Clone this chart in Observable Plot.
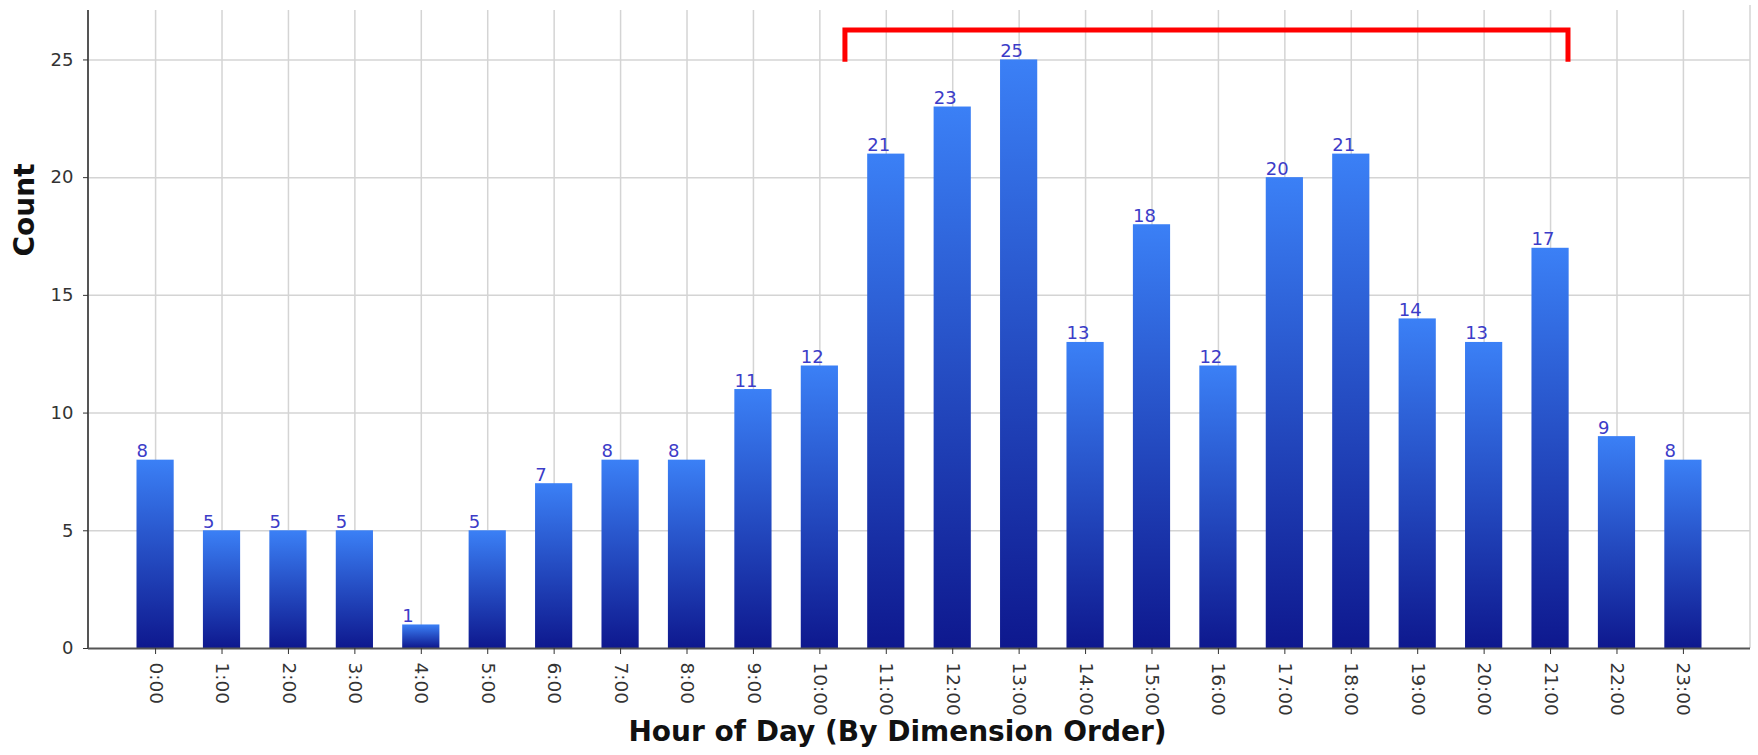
<!DOCTYPE html>
<html><head><meta charset="utf-8">
<script src="https://cdn.jsdelivr.net/npm/d3@7"></script>
<script src="https://cdn.jsdelivr.net/npm/@observablehq/plot@0.6"></script>
<style>body{margin:0;background:#fff}</style>
</head><body><div id="chart"></div>
<script>
const hours = ["0:00","1:00","2:00","3:00","4:00","5:00","6:00","7:00","8:00","9:00","10:00","11:00","12:00","13:00","14:00","15:00","16:00","17:00","18:00","19:00","20:00","21:00","22:00","23:00"];
const counts = [8,5,5,5,1,5,7,8,8,11,12,21,23,25,13,18,12,20,21,14,13,17,9,8];
const yTicks = [0,5,10,15,20,25];
const yTitle = "Count";
const xTitle = "Hour of Day (By Dimension Order)";
// red bracket annotation (band, fraction of a step past band centre, values)
const bracketFrom = "10:00", bracketFromShift = 0.385;
const bracketTo = "21:00", bracketToShift = 0.27;
const bracketLow = 24.9, bracketHigh = 26.25;

const data = hours.map((h, i) => ({hour: h, count: counts[i]}));
const FONT = "'DejaVu Sans', Verdana, sans-serif";

const defsMark = () => {
  const defs = d3.create("svg:defs");
  const g = defs.append("linearGradient").attr("id", "barGrad")
    .attr("x1", 0).attr("y1", 0).attr("x2", 0).attr("y2", 1);
  g.append("stop").attr("offset", "0%").attr("stop-color", "#3b80f6");
  g.append("stop").attr("offset", "100%").attr("stop-color", "#0e188e");
  return defs.node();
};

const frameMark = (index, scales, values, dims) => {
  const {width, height, marginLeft, marginRight, marginTop, marginBottom} = dims;
  const g = d3.create("svg:g");
  g.append("line").attr("x1", width - marginRight).attr("x2", width - marginRight)
    .attr("y1", marginTop - 5).attr("y2", height - marginBottom)
    .attr("stroke", "#d4d4d4").attr("stroke-width", 1.5);
  g.append("line").attr("x1", marginLeft).attr("x2", marginLeft)
    .attr("y1", marginTop).attr("y2", height - marginBottom)
    .attr("stroke", "#555").attr("stroke-width", 2);
  return g.node();
};

const bracketMark = (index, scales) => {
  const sx = scales.x, sy = scales.y;
  const bw = typeof sx.bandwidth === "function" ? sx.bandwidth() : (sx.bandwidth || 0);
  const step = sx(hours[1]) - sx(hours[0]);
  const x0 = sx(bracketFrom) + bw / 2 + bracketFromShift * step;
  const x1 = sx(bracketTo) + bw / 2 + bracketToShift * step;
  const yl = sy(bracketLow), yh = sy(bracketHigh);
  return d3.create("svg:path")
    .attr("d", `M${x0},${yl}V${yh}H${x1}V${yl}`)
    .attr("fill", "none").attr("stroke", "#ff0000").attr("stroke-width", 5)
    .attr("stroke-linejoin", "miter").node();
};

const chart = Plot.plot({
  width: 1758, height: 755,
  marginLeft: 88, marginRight: 8, marginTop: 10, marginBottom: 107,
  style: {fontFamily: FONT, background: "#fff"},
  x: {type: "band", domain: hours, paddingInner: 0.44, paddingOuter: 0.73, round: false, label: null},
  y: {domain: [0, 27.1], label: null},
  marks: [
    defsMark,
    Plot.gridY({ticks: yTicks.filter(v => v > 0), stroke: "#d4d4d4", strokeOpacity: 1, strokeWidth: 1.5}),
    Plot.gridX({stroke: "#d4d4d4", strokeOpacity: 1, strokeWidth: 1.5}),
    frameMark,
    Plot.barY(data, {x: "hour", y: "count", fill: "url(#barGrad)"}),
    Plot.ruleY([0], {stroke: "#555", strokeWidth: 2}),
    Plot.axisX({tickRotate: 90, tickSize: 6, tickPadding: 8, fontSize: 18.5, color: "#333", label: null}),
    Plot.axisY({ticks: yTicks, tickSize: 5, tickPadding: 10, fontSize: 18, color: "#333", label: null}),
    Plot.text(data, {x: "hour", y: "count", text: d => String(d.count), textAnchor: "start", lineAnchor: "bottom", dx: -19, dy: -3, fill: "#3c3cc8", fontSize: 18}),
    Plot.text([yTitle], {frameAnchor: "left", rotate: -90, dx: -63, dy: -73, fontWeight: "bold", fontSize: 28, fill: "#111"}),
    Plot.text([xTitle], {frameAnchor: "bottom", dx: -22, dy: 92, fontWeight: "bold", fontSize: 28, fill: "#111"}),
    bracketMark
  ]
});
document.getElementById("chart").append(chart);
</script>
</body></html>
